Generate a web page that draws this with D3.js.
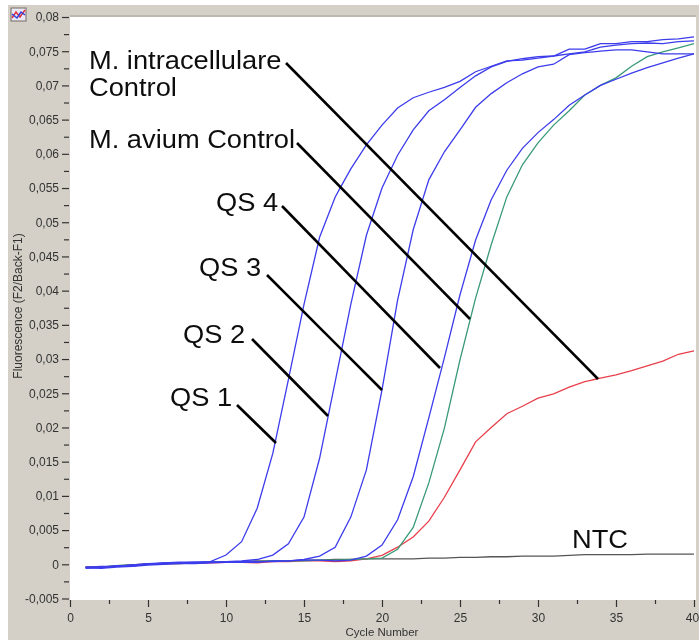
<!DOCTYPE html>
<html>
<head>
<meta charset="utf-8">
<title>Fluorescence</title>
<script src="https://cdnjs.cloudflare.com/ajax/libs/d3/7.8.5/d3.min.js"></script>
<style>
  html, body { margin: 0; padding: 0; background: #fff; }
  svg { display: block; }
  text { font-family: "Liberation Sans", Arial, sans-serif; }
</style>
</head>
<body>
<script>
var cycles = d3.range(1, 41);

var qs1 = [-0.0004,-0.0003,-0.0003,-0.0001,0.0001,0.0002,0.0003,0.0003,0.0004,0.00135,0.0033,0.0082,0.0162,0.027,0.038,0.0478,0.0537,0.0578,0.0613,0.0642,0.0667,0.0682,0.069,0.0697,0.0706,0.072,0.0728,0.0736,0.0737,0.074,0.0743,0.0753,0.0753,0.0761,0.0761,0.0764,0.0764,0.0767,0.0768,0.0771];
var qs2 = [-0.0006,-0.0005,-0.0003,-0.0001,0,0.0002,0.0002,0.0002,0.0003,0.0004,0.0005,0.0007,0.00135,0.003,0.0069,0.0155,0.0267,0.038,0.0481,0.055,0.0598,0.0635,0.0663,0.0679,0.0697,0.0714,0.0727,0.0735,0.0739,0.0742,0.0743,0.0746,0.0749,0.0756,0.0759,0.0761,0.0762,0.0761,0.0764,0.0765];
var qs3 = [-0.0004,-0.0005,-0.0002,-0.0003,0.0001,0.0001,0.0002,0.0003,0.0003,0.0003,0.0004,0.0004,0.0004,0.0005,0.0007,0.0012,0.0025,0.0069,0.0138,0.0255,0.0386,0.0489,0.0562,0.0603,0.0635,0.0668,0.0688,0.0704,0.0717,0.0727,0.0731,0.0745,0.0748,0.075,0.0752,0.0752,0.0749,0.0746,0.0746,0.0746];
var qs4 = [-0.0005,-0.0006,-0.0004,-0.0003,-0.0001,0,0.0001,0.0001,0.0002,0.0003,0.0003,0.0003,0.0005,0.0005,0.0006,0.0006,0.0005,0.0006,0.0012,0.0028,0.0065,0.0128,0.0214,0.0302,0.0394,0.0474,0.0533,0.0576,0.0608,0.0631,0.065,0.0671,0.0686,0.07,0.0709,0.0718,0.0726,0.0733,0.074,0.0746];
var avium = [-0.0005,-0.0004,-0.0002,-0.0001,0,0.0001,0.0001,0.0002,0.0003,0.0003,0.0004,0.0004,0.0005,0.0005,0.0005,0.0006,0.0006,0.0007,0.0008,0.0009,0.0022,0.0054,0.0119,0.0199,0.0299,0.0389,0.0467,0.0537,0.0584,0.0616,0.0642,0.0663,0.0686,0.07,0.0711,0.0728,0.0742,0.0749,0.0755,0.0761];
var intra = [-0.0004,-0.0004,-0.0003,-0.0001,0,0.0001,0.0001,0.0002,0.0002,0.0003,0.0003,0.0002,0.0004,0.0004,0.0005,0.0005,0.0004,0.0005,0.0008,0.0013,0.0025,0.004,0.0063,0.0098,0.0138,0.0179,0.02,0.022,0.0231,0.0243,0.0249,0.0259,0.0267,0.0272,0.0277,0.0283,0.029,0.0297,0.0307,0.0312];
var ntc = [-0.0004,-0.0004,-0.0002,-0.0001,0.0001,0.0001,0.0002,0.0002,0.0003,0.0004,0.0004,0.0005,0.0005,0.0005,0.0006,0.0006,0.0007,0.0007,0.0008,0.0008,0.0008,0.0008,0.0009,0.0009,0.001,0.001,0.0011,0.0011,0.0012,0.0012,0.0012,0.0013,0.0014,0.0014,0.0014,0.0014,0.0015,0.0015,0.0015,0.0015];

var yTicks = d3.range(-5, 81, 5).map(function(d) { return d / 1000; });
var yMinor = d3.range(-2.5, 80, 5).map(function(d) { return d / 1000; });
var xTicks = d3.range(0, 41, 5);
var xMinor = d3.range(2.5, 40, 5);

var notes = [
  { lines: ["M. intracellulare", "Control"], x: 89, y: 69, from: [286, 63], to: [598, 379] },
  { lines: ["M. avium Control"], x: 89, y: 148, from: [297, 143], to: [470, 319] },
  { lines: ["QS 4"], x: 216, y: 211, from: [282, 206], to: [440, 368] },
  { lines: ["QS 3"], x: 199, y: 276, from: [267, 275], to: [382, 390] },
  { lines: ["QS 2"], x: 183, y: 343, from: [252, 339], to: [328, 416] },
  { lines: ["QS 1"], x: 170, y: 406, from: [237, 405], to: [276, 443] },
  { lines: ["NTC"], x: 572, y: 548 }
];

var svg = d3.select("body").append("svg")
  .attr("width", 699)
  .attr("height", 640);

// the reference is a soft, rescaled screenshot
svg.append("defs").append("filter")
    .attr("id", "soft")
  .append("feGaussianBlur")
    .attr("stdDeviation", 0.45);

var root = svg.append("g").attr("filter", "url(#soft)");

var x = d3.scaleLinear().domain([0, 40]).range([70, 694]);
var y = d3.scaleLinear().domain([-0.005, 0.08]).range([598.5, 17]);

root.append("rect")
  .attr("x", 8).attr("y", 5)
  .attr("width", 691).attr("height", 635)
  .style("fill", "#d4d0c8");
root.append("rect")
  .attr("x", 70).attr("y", 17)
  .attr("width", 626).attr("height", 583)
  .style("fill", "#fff");
root.append("line")
  .attr("x1", 70).attr("x2", 696)
  .attr("y1", 16).attr("y2", 16)
  .style("stroke", "#b5b1aa")
  .style("stroke-width", 1.5);

// little chart icon, top left
var icon = root.append("g").attr("transform", "translate(11,8)");
icon.append("rect").attr("width", 15).attr("height", 13).style("fill", "#e8e8f4").style("stroke", "#776a66");
icon.append("path").attr("d", "M1,10L5,4L9,9L14,2").style("fill", "none").style("stroke", "#e03040").style("stroke-width", 1.5);
icon.append("path").attr("d", "M1,6L6,10L10,4L14,7").style("fill", "none").style("stroke", "#3040e0").style("stroke-width", 1.5);

var yAxis = d3.axisLeft(y)
  .tickValues(yTicks)
  .tickSize(7)
  .tickPadding(3)
  .tickFormat(function(d) { return String(+d.toFixed(3)).replace(".", ","); });

var yAxisG = root.append("g")
  .attr("transform", "translate(69,0)")
  .call(yAxis);

var yMinorG = root.append("g")
  .attr("transform", "translate(69,0)")
  .call(d3.axisLeft(y).tickValues(yMinor).tickSize(5).tickFormat(""));

var xAxis = d3.axisBottom(x)
  .tickValues(xTicks)
  .tickSize(7)
  .tickPadding(6)
  .tickFormat(d3.format("d"));

var xAxisG = root.append("g")
  .attr("transform", "translate(0,600)")
  .call(xAxis);

var xMinorG = root.append("g")
  .attr("transform", "translate(0,600)")
  .call(d3.axisBottom(x).tickValues(xMinor).tickSize(4).tickFormat(""));

[yAxisG, yMinorG, xAxisG, xMinorG].forEach(function(g) {
  g.select(".domain").remove();
  g.selectAll("line").style("stroke", "#333").style("stroke-width", 1.2);
  g.selectAll("text")
    .style("font-size", "12px")
    .style("fill", "#333")
    .style("font-family", "'Liberation Sans', Arial, sans-serif");
});

// keep the last label inside the window
xAxisG.selectAll("text")
  .filter(function(d) { return d === 40; })
  .attr("dx", -2);

root.append("text")
  .attr("transform", "translate(22,306) rotate(-90)")
  .attr("text-anchor", "middle")
  .style("font-size", "12px")
  .style("fill", "#333")
  .text("Fluorescence (F2/Back-F1)");

root.append("text")
  .attr("x", 382)
  .attr("y", 636)
  .attr("text-anchor", "middle")
  .style("font-size", "11.5px")
  .style("fill", "#333")
  .text("Cycle Number");

var line = d3.line()
  .x(function(d, i) { return x(cycles[i]); })
  .y(function(d) { return y(d); });

var plot = root.append("g");

function drawCurve(values, colour) {
  plot.append("path")
    .datum(values)
    .attr("d", line)
    .style("fill", "none")
    .style("stroke", colour)
    .style("stroke-width", 1.3);
}

drawCurve(ntc, "#555555");
drawCurve(intra, "#e8404c");
drawCurve(avium, "#3a9a78");
drawCurve(qs4, "#3c3cec");
drawCurve(qs3, "#3c3cec");
drawCurve(qs2, "#3c3cec");
drawCurve(qs1, "#3c3cec");

// labels and leader lines
var note = root.append("g").selectAll("g")
  .data(notes)
  .enter().append("g");

note.filter(function(d) { return d.from; })
  .append("line")
  .attr("x1", function(d) { return d.from[0]; })
  .attr("y1", function(d) { return d.from[1]; })
  .attr("x2", function(d) { return d.to[0]; })
  .attr("y2", function(d) { return d.to[1]; })
  .style("stroke", "#000")
  .style("stroke-width", 2.6);

note.each(function(d) {
  var g = d3.select(this);
  d.lines.forEach(function(t, i) {
    g.append("text")
      .attr("transform", "translate(" + d.x + "," + (d.y + i * 27) + ") scale(1.07,1)")
      .style("font-size", "25.5px")
      .style("fill", "#111")
      .text(t);
  });
});
</script>
</body>
</html>
